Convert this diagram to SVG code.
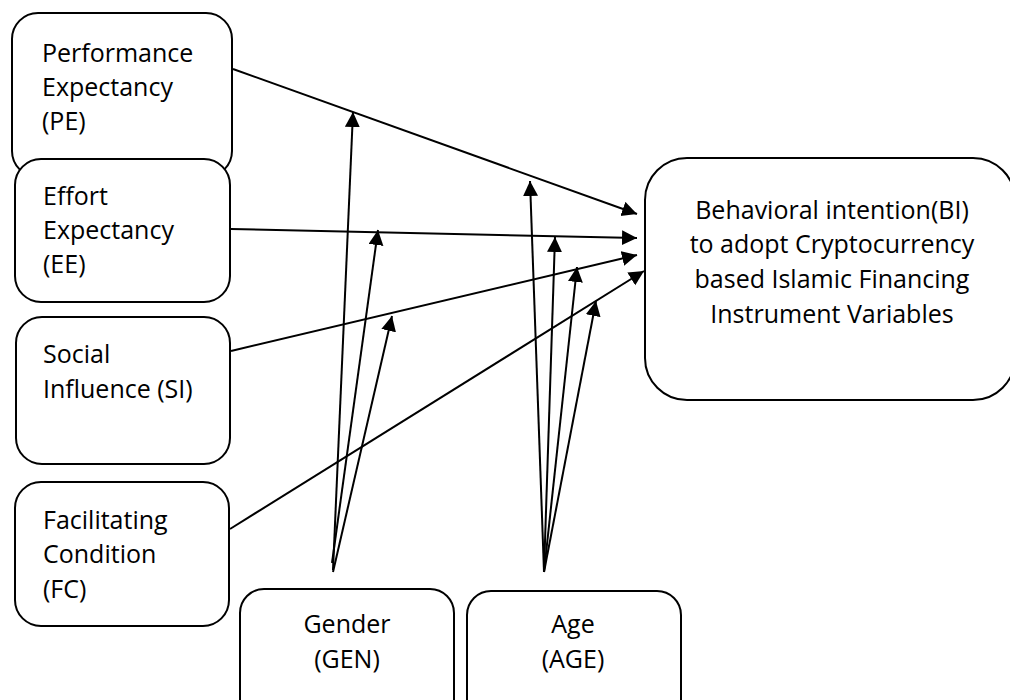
<svg xmlns="http://www.w3.org/2000/svg" width="1010" height="700" viewBox="0 0 1010 700">
<defs>
<style>
.box{fill:#fff;stroke:#000;stroke-width:2}
.t{font-family:"Open Sans","Liberation Sans",sans-serif;font-size:25px;fill:#000}
.c{text-anchor:middle}
.ln{stroke:#000;stroke-width:2;fill:none;marker-end:url(#ah)}
</style>
<marker id="ah" markerUnits="userSpaceOnUse" markerWidth="16" markerHeight="16" refX="15" refY="7.5" orient="auto">
<path d="M0,0 L15,7.5 L0,15 Z" fill="#000"/>
</marker>
</defs>
<rect width="1010" height="700" fill="#fff"/>
<g id="node-pe">
<rect class="box" x="12" y="13" width="220" height="164" rx="26"/>
<text class="t" x="42" y="62">Performance</text>
<text class="t" x="42" y="96">Expectancy</text>
<text class="t" x="42" y="130">(PE)</text>
</g>
<g id="node-ee">
<rect class="box" x="15" y="159" width="215" height="143" rx="26"/>
<text class="t" x="43" y="205">Effort</text>
<text class="t" x="43" y="239">Expectancy</text>
<text class="t" x="43" y="273">(EE)</text>
</g>
<g id="node-si">
<rect class="box" x="16" y="317" width="214" height="147" rx="26"/>
<text class="t" x="43" y="363">Social</text>
<text class="t" x="43" y="398">Influence (SI)</text>
</g>
<g id="node-fc">
<rect class="box" x="15" y="482" width="214" height="144" rx="26"/>
<text class="t" x="43" y="529">Facilitating</text>
<text class="t" x="43" y="563">Condition</text>
<text class="t" x="43" y="598">(FC)</text>
</g>
<g id="node-gen">
<rect class="box" x="240" y="589" width="214" height="140" rx="24"/>
<text class="t c" x="347" y="633">Gender</text>
<text class="t c" x="347" y="668">(GEN)</text>
</g>
<g id="node-age">
<rect class="box" x="467" y="591" width="214" height="140" rx="24"/>
<text class="t c" x="573" y="633">Age</text>
<text class="t c" x="573" y="668">(AGE)</text>
</g>
<g id="node-bi">
<rect class="box" x="645" y="158" width="370" height="242" rx="42"/>
<text class="t c" x="832" y="219">Behavioral intention(BI)</text>
<text class="t c" x="832" y="253">to adopt Cryptocurrency</text>
<text class="t c" x="832" y="288">based Islamic Financing</text>
<text class="t c" x="832" y="323">Instrument Variables</text>
</g>
<g id="connectors">
<line class="ln" x1="233" y1="69" x2="637" y2="214"/>
<line class="ln" x1="231" y1="229" x2="637" y2="238"/>
<line class="ln" x1="231" y1="351" x2="637" y2="255"/>
<line class="ln" x1="230" y1="529" x2="644" y2="271"/>
<line class="ln" x1="333" y1="570" x2="353" y2="112"/>
<line class="ln" x1="332" y1="563" x2="378" y2="230"/>
<line class="ln" x1="333" y1="572" x2="392" y2="316"/>
<line class="ln" x1="544" y1="572" x2="530" y2="181"/>
<line class="ln" x1="544" y1="572" x2="555" y2="237"/>
<line class="ln" x1="544" y1="572" x2="577" y2="267"/>
<line class="ln" x1="544" y1="572" x2="596" y2="301"/>
</g>
</svg>
